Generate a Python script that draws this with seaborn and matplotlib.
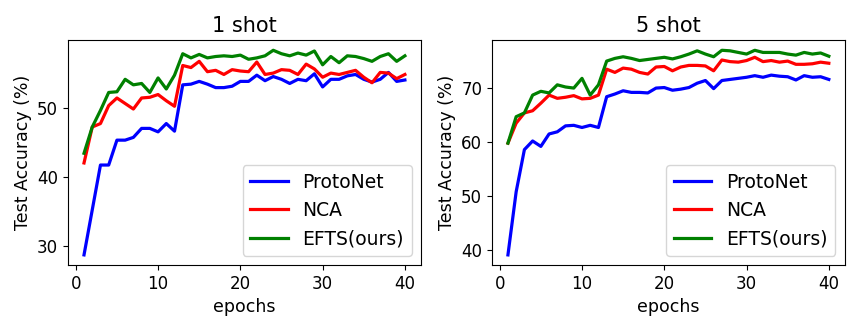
import numpy as np
import pandas as pd
import matplotlib
matplotlib.use("Agg")
import matplotlib.pyplot as plt
import seaborn as sns

epochs = list(range(1, 41))
methods = ["ProtoNet", "NCA", "EFTS(ours)"]
colors = ["blue", "red", "green"]

# 1 shot
protonet_1 = [28.7, 35.2, 41.7, 41.7, 45.3, 45.3, 45.7, 47.0, 47.0, 46.5,
              47.7, 46.6, 53.3, 53.4, 53.8, 53.4, 52.9, 52.9, 53.1, 53.8,
              53.8, 54.7, 53.9, 54.5, 54.1, 53.5, 54.1, 53.9, 54.9, 53.0,
              54.1, 54.1, 54.6, 54.8, 54.1, 53.7, 54.1, 55.1, 53.8, 54.0]
nca_1 = [42.0, 47.2, 47.7, 50.3, 51.4, 50.6, 49.8, 51.4, 51.5, 51.9,
         51.0, 50.2, 56.1, 55.8, 56.7, 55.2, 55.4, 54.8, 55.5, 55.3,
         55.2, 56.6, 54.8, 55.0, 55.5, 55.4, 54.8, 56.3, 55.6, 54.4,
         55.0, 54.8, 55.1, 55.4, 54.4, 53.6, 55.1, 55.0, 54.2, 54.8]
efts_1 = [43.4, 47.2, 49.6, 52.2, 52.3, 54.1, 53.3, 53.5, 52.2, 54.3,
          52.7, 54.7, 57.8, 57.2, 57.7, 57.2, 57.4, 57.5, 57.4, 57.6,
          57.0, 57.2, 57.5, 58.3, 57.8, 57.5, 57.9, 57.6, 58.2, 56.2,
          57.4, 56.5, 57.5, 57.4, 57.1, 56.7, 57.4, 57.8, 56.7, 57.5]

# 5 shot
protonet_5 = [39.0, 50.7, 58.5, 60.1, 59.1, 61.4, 61.8, 62.9, 63.0, 62.6,
              63.0, 62.6, 68.3, 68.8, 69.4, 69.1, 69.1, 69.0, 69.9, 70.0,
              69.5, 69.7, 70.0, 70.8, 71.3, 69.8, 71.3, 71.5, 71.7, 71.9,
              72.2, 71.9, 72.3, 72.1, 72.0, 71.4, 72.2, 71.9, 72.0, 71.5]
nca_5 = [59.7, 63.4, 65.3, 65.7, 67.1, 68.6, 68.0, 68.2, 68.5, 67.9,
         68.0, 68.6, 73.4, 72.8, 73.6, 73.4, 72.8, 72.5, 73.8, 73.9,
         73.1, 73.8, 74.1, 74.1, 74.0, 73.1, 75.1, 74.8, 74.7, 75.0,
         75.6, 74.8, 75.0, 74.7, 74.9, 74.3, 74.3, 74.4, 74.7, 74.5]
efts_5 = [59.7, 64.6, 65.3, 68.6, 69.3, 69.0, 70.5, 70.1, 69.9, 71.7,
          68.6, 70.5, 74.9, 75.4, 75.7, 75.4, 75.0, 75.2, 75.4, 75.6,
          75.3, 75.7, 76.2, 76.8, 76.2, 75.7, 76.9, 76.8, 76.5, 76.2,
          76.9, 76.5, 76.5, 76.5, 76.2, 76.0, 76.5, 76.2, 76.4, 75.8]

panels = [("1 shot", [protonet_1, nca_1, efts_1]),
          ("5 shot", [protonet_5, nca_5, efts_5])]

fig, axes = plt.subplots(1, 2, figsize=(8.56, 3.31), dpi=100)
fig.subplots_adjust(left=0.0794, right=0.987, bottom=0.199, top=0.879, wspace=0.201)

for ax, (title, series) in zip(axes, panels):
    df = pd.DataFrame({
        "epoch": epochs * 3,
        "acc": sum(series, []),
        "method": [m for m in methods for _ in epochs],
    })
    sns.lineplot(data=df, x="epoch", y="acc", hue="method", hue_order=methods,
                 palette=colors, linewidth=2.3, ax=ax)
    ax.set_title(title, fontsize=15)
    ax.set_xlabel("epochs", fontsize=12.5)
    ax.set_ylabel("Test Accuracy (%)", fontsize=12.5)
    ax.tick_params(labelsize=12)
    ax.set_xticks([0, 10, 20, 30, 40])
    ax.legend(loc="lower right", fontsize=13.5)

fig.savefig("out.png", dpi=100)
